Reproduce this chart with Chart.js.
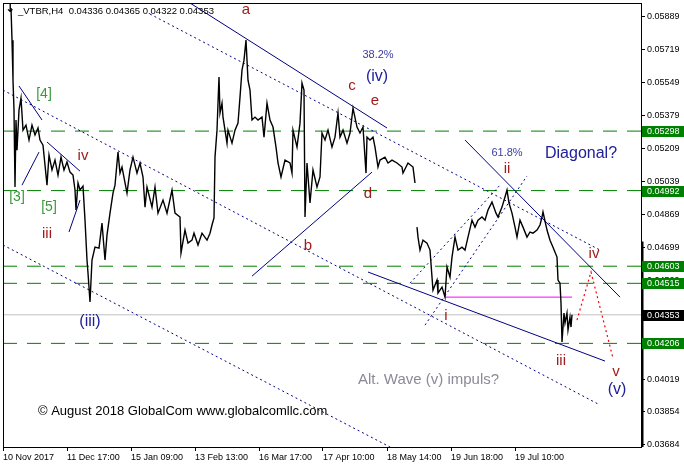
<!DOCTYPE html>
<html>
<head>
<meta charset="utf-8">
<script src="https://cdn.jsdelivr.net/npm/chart.js@4.4.0/dist/chart.umd.min.js"></script>
<style>
  html, body { margin: 0; padding: 0; background: #fff; }
  canvas { display: block; }
</style>
</head>
<body>
<canvas id="vtbrChart" width="684" height="469"></canvas>
<script>
// H4 bar number (0 = 10 Nov 2017) and price
const barIdx = [
    8, 9, 10, 11, 12, 13, 14, 16, 18, 20, 23, 26, 29, 32, 35, 37, 40, 42, 44, 46,
    49, 52, 55, 58, 61, 64, 67, 70, 72, 73, 75, 77, 80, 82, 84, 85, 87, 89, 92, 96,
    99, 102, 104, 107, 110, 112, 115, 117, 119, 124, 127, 130, 134, 137, 140, 142, 144, 149, 152, 155,
    160, 164, 169, 172, 177, 178, 182, 185, 189, 191, 195, 199, 204, 207, 209, 211, 212, 214, 216, 217,
    219, 220, 224, 225, 229, 232, 235, 237, 239, 241, 243, 245, 247, 249, 252, 255, 259, 261, 264, 267,
    270, 273, 275, 278, 282, 287, 289, 290, 294, 297, 299, 301, 302, 304, 307, 310, 314, 317, 319, 322,
    325, 329, 332, 335, 337, 340, 344, 347, 350, 354, 357, 360, 363, 364, 367, 370, 372, 375, 377, 382,
    385, 389, 394, 399, 400, 405, 410, 412, 413, 414, 415, 417, 420, 424, 427, 429, 430, 434, 435, 439,
    442, 444, 447, 449, 452, 455, 459, 462, 465, 469, 472, 475, 479, 482, 485, 489, 493, 495, 499, 502,
    504, 506, 509, 512, 514, 517, 520, 524, 527, 530, 534, 537, 539, 540, 544, 547, 550, 554, 555, 557,
    558, 559, 561, 562, 564, 565, 567, 568, 569
]
const barPrice = [
    0.05931, 0.05766, 0.05560, 0.05406, 0.05010, 0.05355, 0.05200, 0.05406, 0.05468, 0.05303, 0.05329, 0.05252, 0.05329, 0.05278, 0.05314, 0.05252, 0.05226, 0.05123, 0.05020, 0.05175,
    0.05098, 0.05149, 0.05072, 0.05164, 0.05098, 0.05139, 0.05087, 0.05072, 0.04995, 0.04892, 0.05031, 0.04995, 0.05015, 0.04840, 0.04635, 0.04568, 0.04419, 0.04635, 0.04701, 0.04696,
    0.04825, 0.04635, 0.04763, 0.04876, 0.04979, 0.05020, 0.05190, 0.05082, 0.05113, 0.04979, 0.05098, 0.05164, 0.05082, 0.05134, 0.05062, 0.04907, 0.05010, 0.04907, 0.05010, 0.04876,
    0.04943, 0.04876, 0.04995, 0.04876, 0.04856, 0.04671, 0.04789, 0.04722, 0.04737, 0.04773, 0.04712, 0.04773, 0.04737, 0.04773, 0.04815, 0.04851, 0.05164, 0.05303, 0.05576, 0.05391,
    0.05442, 0.05370, 0.05236, 0.05303, 0.05236, 0.05303, 0.05339, 0.05473, 0.05612, 0.05663, 0.05766, 0.05560, 0.05509, 0.05355, 0.05370, 0.05355, 0.05370, 0.05267, 0.05442, 0.05355,
    0.05319, 0.05216, 0.05134, 0.05062, 0.05149, 0.05134, 0.05082, 0.05303, 0.05216, 0.05339, 0.05545, 0.05509, 0.04856, 0.05134, 0.04928, 0.05098, 0.05010, 0.05062, 0.05288, 0.05252,
    0.05303, 0.05216, 0.05267, 0.05391, 0.05267, 0.05303, 0.05236, 0.05288, 0.05416, 0.05319, 0.05288, 0.05319, 0.05082, 0.05267, 0.05252, 0.05267, 0.05216, 0.05113, 0.05149, 0.05164,
    0.05134, 0.05149, 0.05134, 0.05113, 0.05082, 0.05134, 0.05113, 0.05031, null, 0.04804, 0.04753, 0.04686, 0.04737, 0.04722, 0.04686, 0.04547, 0.04480, 0.04532, 0.04465, 0.04496,
    0.04444, 0.04599, 0.04547, 0.04650, 0.04753, 0.04686, 0.04701, 0.04686, 0.04753, 0.04840, 0.04804, 0.04840, 0.04856, 0.04840, 0.04892, 0.04933, 0.04876, 0.04856, 0.04907, 0.04959,
    0.04995, 0.04928, 0.04876, 0.04804, 0.04753, 0.04840, 0.04804, 0.04753, 0.04779, 0.04773, 0.04789, 0.04815, 0.04856, 0.04882, 0.04789, 0.04737, 0.04701, 0.04650, 0.04532, 0.04516,
    0.04413, 0.04213, 0.04362, 0.04311, 0.04362, 0.04275, 0.04341, 0.04290, 0.04353
]

// Axes
const xTickBars = [0, 64, 128, 192, 256, 320, 384, 448, 512]
const xTickLabels = ['10 Nov 2017', '11 Dec 17:00', '15 Jan 09:00', '13 Feb 13:00', '16 Mar 17:00',
    '17 Apr 10:00', '18 May 14:00', '19 Jun 18:00', '19 Jul 10:00']
const yTickValues = [0.05889, 0.05719, 0.05549, 0.05379, 0.05209, 0.05039, 0.04869, 0.04699,
    0.04529, 0.04359, 0.04189, 0.04019, 0.03854, 0.03684]

// Header OHLC of the last bar
const lastOHLC = [0.04336, 0.04365, 0.04322, 0.04353]

// Horizontal levels
const greenLevels = [0.05298, 0.04992, 0.04603, 0.04515, 0.04206]
const lastPrice = 0.04353
const waveIPrice = 0.04444
const waveIBars = [442, 569]

// Trend lines [bar1, price1, bar2, price2]
const solidLines = [
    [187, 0.05957, 384, 0.05314],
    [16, 0.05530, 39, 0.05355],
    [44, 0.05242, 77, 0.05092],
    [19, 0.05020, 36, 0.05190],
    [66, 0.04779, 77, 0.04943],
    [249, 0.04552, 369, 0.05087],
    [365, 0.04573, 602, 0.04115],
    [462, 0.05252, 617, 0.04444]
]
const dottedLines = [
    [147, 0.05900, 597, 0.04686],
    [0, 0.05509, 597, 0.03889],
    [0, 0.04712, 387, 0.03673],
    [407, 0.04516, 497, 0.05020],
    [422, 0.04300, 524, 0.05067]
]
// Red projection iv -> v
const projBars = [574, 588, 610]
const projPrices = [0.04326, 0.04573, 0.04130]

// Text on the chart [text, bar, price, kind]
const chartLabels = [
    ['[4]', 41, 0.05488, 'minor'],
    ['[3]', 14, 0.04959, 'minor'],
    ['[5]', 46, 0.04907, 'minor'],
    ['iv', 80, 0.05170, 'wave'],
    ['iii', 44, 0.04768, 'wave'],
    ['(iii)', 87, 0.04316, 'degree'],
    ['a', 243, 0.05921, 'wave'],
    ['b', 305, 0.04707, 'wave'],
    ['c', 349, 0.05530, 'wave'],
    ['d', 365, 0.04974, 'wave'],
    ['e', 372, 0.05452, 'wave'],
    ['38.2%', 375, 0.05689, 'fib'],
    ['(iv)', 374, 0.05576, 'degree'],
    ['61.8%', 504, 0.05185, 'fib'],
    ['Diagonal?', 578, 0.05180, 'degree'],
    ['ii', 504, 0.05103, 'wave'],
    ['i', 443, 0.04347, 'wave'],
    ['iii', 558, 0.04115, 'wave'],
    ['iv', 591, 0.04665, 'wave'],
    ['v', 613, 0.04058, 'wave'],
    ['(v)', 614, 0.03966, 'degree'],
    ['Alt. Wave (v) impuls?', 355, 0.04017, 'alt'],
    ['\u00a9 August 2018 GlobalCom www.globalcomllc.com', 35, 0.03858, 'copy']
]

const labelStyle = {
    minor: { font: '14px "Liberation Sans"', color: '#3a9a3a', align: 'center' },
    wave: { font: '15px "Liberation Sans"', color: '#a01c1c', align: 'center' },
    degree: { font: '16px "Liberation Sans"', color: '#20209a', align: 'center' },
    fib: { font: '11px "Liberation Sans"', color: '#3b3ba3', align: 'center' },
    alt: { font: '15px "Liberation Sans"', color: '#8a8a99', align: 'left' },
    copy: { font: '13px "Liberation Sans"', color: '#000000', align: 'left' }
}

const NAVY = '#000080'
const GREEN = '#008000'

function segment(x1, y1, x2, y2) {
    return [{x: x1, y: y1}, {x: x2, y: y2}]
}

// Datasets
const datasets = []
datasets.push({
    label: 'VTBR H4',
    data: barIdx.map((b, i) => ({x: b, y: barPrice[i]})),
    borderColor: '#000000',
    borderWidth: 1.4,
    pointRadius: 0,
    spanGaps: false,
    order: 0
})
greenLevels.forEach(lvl => {
    datasets.push({
        data: segment(0, lvl, 638, lvl),
        borderColor: GREEN, borderWidth: 1, borderDash: [14, 10],
        pointRadius: 0, order: 5
    })
})
datasets.push({
    data: segment(0, lastPrice, 638, lastPrice),
    borderColor: '#c0c0c0', borderWidth: 1, pointRadius: 0, order: 6
})
datasets.push({
    data: segment(waveIBars[0], waveIPrice, waveIBars[1], waveIPrice),
    borderColor: '#ff00ff', borderWidth: 1, pointRadius: 0, order: 4
})
solidLines.forEach(l => {
    datasets.push({
        data: segment(...l), borderColor: NAVY, borderWidth: 1, pointRadius: 0, order: 3
    })
})
dottedLines.forEach(l => {
    datasets.push({
        data: segment(...l), borderColor: NAVY, borderWidth: 1, borderDash: [2, 3], pointRadius: 0, order: 3
    })
})
datasets.push({
    data: projBars.map((b, i) => ({x: b, y: projPrices[i]})),
    borderColor: '#ff0000', borderWidth: 1.2, borderDash: [2, 3], pointRadius: 0, order: 2
})

// Frame, header and price boxes on the axis
const mtPlugin = {
    id: 'mtPlugin',
    afterDatasetsDraw(chart) {
        const ctx = chart.ctx
        const xs = chart.scales.x
        const ys = chart.scales.y
        ctx.save()
        ctx.textBaseline = 'middle'
        chartLabels.forEach(([text, bar, price, kind]) => {
            const st = labelStyle[kind]
            ctx.font = st.font
            ctx.fillStyle = st.color
            ctx.textAlign = st.align
            ctx.fillText(text, xs.getPixelForValue(bar), ys.getPixelForValue(price))
        })
        // sell arrow on the first bar
        ctx.font = 'bold 12px "DejaVu Sans"'
        ctx.fillStyle = '#000'
        ctx.textAlign = 'center'
        ctx.fillText('\u2193', xs.getPixelForValue(barIdx[0] - 1), ys.getPixelForValue(barPrice[0]) + 1)
        ctx.restore()
    },
    afterDraw(chart) {
        const ctx = chart.ctx
        const a = chart.chartArea
        const ys = chart.scales.y
        ctx.save()
        ctx.strokeStyle = '#000'
        ctx.lineWidth = 1
        ctx.strokeRect(a.left + 0.5, a.top + 0.5, a.right - a.left, a.bottom - a.top)
        ctx.fillStyle = '#000'
        const thickTop = ys.getPixelForValue(0.0473)
        ctx.fillRect(a.right, thickTop, 2.5, a.bottom - thickTop)

        ctx.font = '9.5px "Liberation Sans"'
        ctx.textBaseline = 'middle'
        ctx.textAlign = 'left'
        ctx.fillText('_VTBR,H4  ' + lastOHLC.map(v => v.toFixed(5)).join(' '), a.left + 15, a.top + 8)

        ctx.font = '9px "Liberation Sans"'
        const boxes = greenLevels.map(v => [v, GREEN]).concat([[lastPrice, '#000000']])
        boxes.forEach(([v, col]) => {
            const py = Math.round(ys.getPixelForValue(v))
            ctx.fillStyle = col
            ctx.fillRect(a.right + 1, py - 5, chart.width - a.right - 1, 11)
            ctx.fillStyle = '#fff'
            ctx.fillText(v.toFixed(5), a.right + 6, py + 0.5)
        })
        ctx.restore()
    }
}

Chart.defaults.font.family = '"Liberation Sans", Arial, sans-serif'
Chart.defaults.font.size = 9
Chart.defaults.color = '#000'

const config = {
    type: 'line',
    data: { datasets: datasets },
    options: {
        responsive: false,
        animation: false,
        events: [],
        layout: { padding: { left: 3, top: 3, right: 0, bottom: 0 } },
        scales: {
            x: {
                type: 'linear',
                min: 0,
                max: 638,
                position: 'bottom',
                grid: { display: true, drawOnChartArea: false, drawTicks: true, tickLength: 4, color: '#000' },
                border: { display: true, color: '#000' },
                ticks: {
                    autoSkip: false, maxRotation: 0, align: 'start', padding: 1,
                    callback: (v) => {
                        const i = xTickBars.indexOf(v)
                        return i >= 0 ? xTickLabels[i] : ''
                    }
                },
                afterBuildTicks: s => { s.ticks = xTickBars.map(v => ({value: v})) },
                afterFit: s => { s.height = 22; s.paddingLeft = 0; s.paddingRight = 0 }
            },
            y: {
                type: 'linear',
                position: 'right',
                min: 0.03673,
                max: 0.05957,
                grid: { display: true, drawOnChartArea: false, drawTicks: true, tickLength: 4, color: '#000' },
                border: { display: true, color: '#000' },
                ticks: { padding: 2, callback: (v) => v.toFixed(5) },
                afterBuildTicks: s => { s.ticks = yTickValues.map(v => ({value: v})) },
                afterFit: s => { s.width = 43; s.paddingTop = 0; s.paddingBottom = 0 }
            }
        },
        plugins: {
            legend: { display: false },
            tooltip: { enabled: false }
        }
    },
    plugins: [mtPlugin]
}

const vtbrChart = new Chart(document.getElementById('vtbrChart'), config)
</script>
</body>
</html>
